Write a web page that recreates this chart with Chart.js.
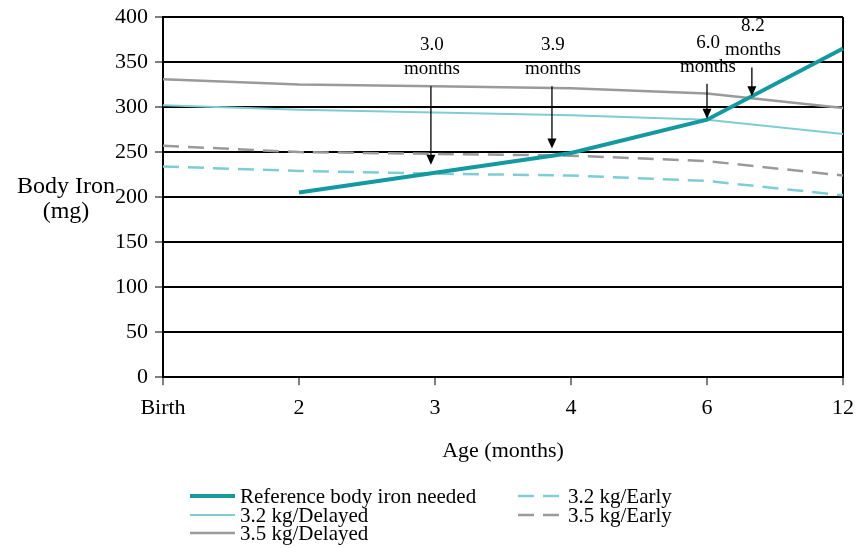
<!DOCTYPE html>
<html>
<head>
<meta charset="utf-8">
<script src="https://cdn.jsdelivr.net/npm/chart.js@4.4.1/dist/chart.umd.min.js"></script>
<style>
  html, body { margin: 0; padding: 0; background: #fff; }
  #wrap { width: 856px; height: 548px; }
</style>
</head>
<body>
<div id="wrap"><canvas id="ironChart"></canvas></div>
<script>
// Body iron chart data
const ages = ['Birth', '2', '3', '4', '6', '12'];
const referenceNeeded = [null, 205, 227, 249, 286, 365];
const delayed32 = [302, 297, 294, 291, 286, 270];
const delayed35 = [331, 325, 323, 321, 315, 299];
const early32 = [234, 229, 226, 224, 218, 202];
const early35 = [257, 250, 248, 246, 240, 224];

// crossing annotations: label, category index, arrow tip and arrow top (mg)
const crossLabels = ['3.0', '3.9', '6.0', '8.2'];
const crossAt = [1.97, 2.86, 4.0, 4.33];
const crossTip = [236, 254, 287, 312];
const crossTop = [323, 323, 326, 344];

const serif = '"Liberation Serif", "Times New Roman", serif';
const teal = '#13999f';
const lightTeal = '#7fcdd4';
const grey = '#9a9a9c';

// arrows + "x.x months" labels
const crossPlugin = {
    id: 'crossings',
    afterDatasetsDraw(chart) {
        const ctx = chart.ctx;
        const x = chart.scales.x, y = chart.scales.y;
        ctx.save();
        ctx.fillStyle = '#000';
        ctx.strokeStyle = '#000';
        ctx.lineWidth = 1.3;
        ctx.font = '19px ' + serif;
        ctx.textAlign = 'center';
        ctx.textBaseline = 'middle';
        for (let i = 0; i < crossLabels.length; i++) {
            const px = x.getPixelForValue(crossAt[i]);
            const top = y.getPixelForValue(crossTop[i]);
            const tip = y.getPixelForValue(crossTip[i]);
            ctx.beginPath();
            ctx.moveTo(px, top);
            ctx.lineTo(px, tip - 8);
            ctx.stroke();
            ctx.beginPath();
            ctx.moveTo(px - 4.5, tip - 10);
            ctx.lineTo(px + 4.5, tip - 10);
            ctx.lineTo(px, tip);
            ctx.closePath();
            ctx.fill();
            ctx.fillText('months', px + 1, top - 17);
            ctx.fillText(crossLabels[i], px + 1, top - 41);
        }
        ctx.restore();
    }
};

// horizontal y title + two-column legend
const extrasPlugin = {
    id: 'extras',
    afterDraw(chart) {
        const ctx = chart.ctx;
        const area = chart.chartArea;
        ctx.save();
        ctx.fillStyle = '#000';
        ctx.font = '24px ' + serif;
        ctx.textAlign = 'center';
        ctx.textBaseline = 'middle';
        const my = (area.top + area.bottom) / 2;
        ctx.fillText('Body Iron', 66, my - 10);
        ctx.fillText('(mg)', 66, my + 15);

        const cols = [190, 518];
        const rows = [496, 515, 533];
        const slots = [[0, 0], [0, 1], [0, 2], [1, 0], [1, 1]];
        ctx.font = '21px ' + serif;
        ctx.textAlign = 'left';
        chart.data.datasets.forEach((ds, i) => {
            const [c, r] = slots[i];
            const lx = cols[c], ly = rows[r];
            ctx.beginPath();
            ctx.strokeStyle = ds.borderColor;
            ctx.lineWidth = ds.borderWidth;
            ctx.setLineDash(ds.borderDash || []);
            ctx.moveTo(lx, ly);
            ctx.lineTo(lx + 45, ly);
            ctx.stroke();
            ctx.setLineDash([]);
            ctx.fillText(ds.label, lx + 50, ly + 1);
        });
        ctx.restore();
    }
};

const ctx1 = document.getElementById('ironChart').getContext('2d');
new Chart(ctx1, {
    type: 'line',
    data: {
        labels: ages,
        datasets: [
            { label: 'Reference body iron needed', data: referenceNeeded, borderColor: teal, borderWidth: 4 },
            { label: '3.2 kg/Delayed', data: delayed32, borderColor: lightTeal, borderWidth: 2 },
            { label: '3.5 kg/Delayed', data: delayed35, borderColor: grey, borderWidth: 2.5 },
            { label: '3.2 kg/Early', data: early32, borderColor: lightTeal, borderWidth: 2.5, borderDash: [16, 9] },
            { label: '3.5 kg/Early', data: early35, borderColor: grey, borderWidth: 2.5, borderDash: [16, 9] }
        ]
    },
    options: {
        responsive: true,
        maintainAspectRatio: false,
        animation: false,
        devicePixelRatio: 1,
        layout: { padding: { left: 108, right: 13, top: 17, bottom: 84 } },
        elements: { point: { radius: 0 }, line: { tension: 0 } },
        plugins: {
            legend: { display: false },
            tooltip: { enabled: false }
        },
        scales: {
            x: {
                afterFit: s => { s.paddingRight = 0; s.paddingLeft = 0; },
                grid: {
                    color: c => c.index === ages.length - 1 ? '#000' : 'rgba(0,0,0,0)',
                    lineWidth: 2,
                    tickLength: 8,
                    tickColor: '#000',
                    tickWidth: 1
                },
                border: { color: '#000', width: 2 },
                ticks: { color: '#000', font: { family: serif, size: 22 }, padding: 10, maxRotation: 0 },
                title: {
                    display: true,
                    text: 'Age (months)',
                    color: '#000',
                    font: { family: serif, size: 22 },
                    padding: { top: 6, bottom: 0 }
                }
            },
            y: {
                min: 0,
                max: 400,
                afterFit: s => { s.paddingTop = 0; s.paddingBottom = 0; },
                grid: { color: '#000', lineWidth: 2, tickLength: 8, tickColor: '#000', tickWidth: 1 },
                border: { color: '#000', width: 2 },
                ticks: { stepSize: 50, color: '#000', font: { family: serif, size: 22 }, padding: 7 }
            }
        }
    },
    plugins: [crossPlugin, extrasPlugin]
});
</script>
</body>
</html>
